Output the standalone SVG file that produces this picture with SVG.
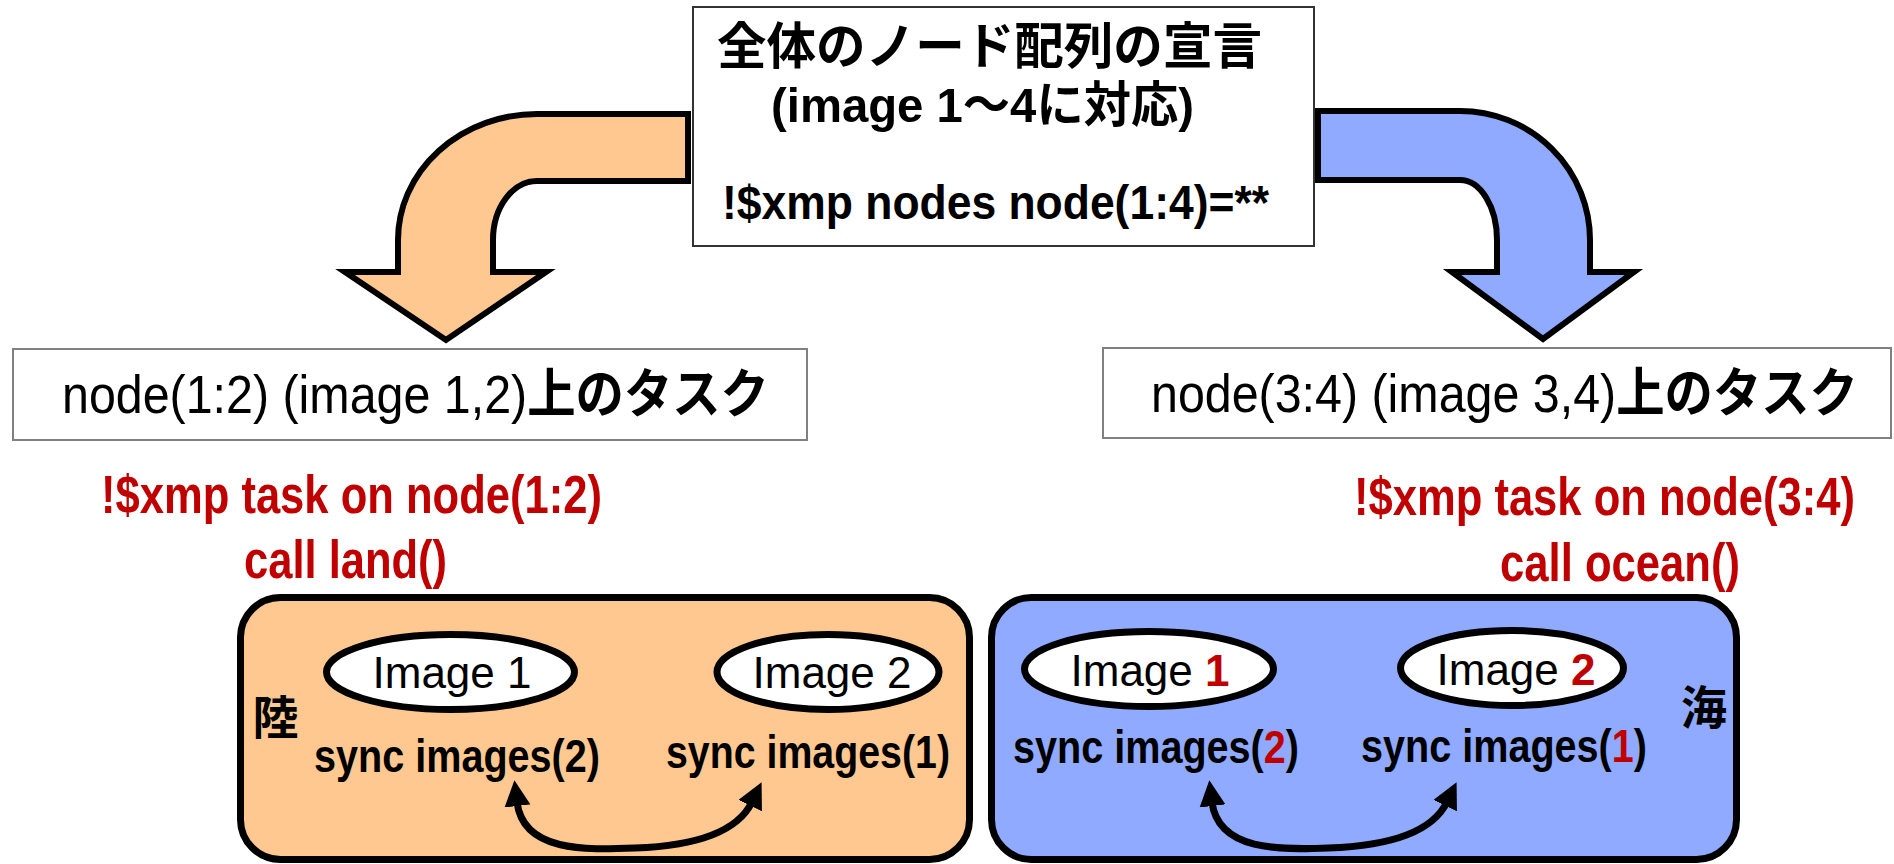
<svg xmlns="http://www.w3.org/2000/svg" width="1894" height="864" viewBox="0 0 1894 864">
<style>
text{font-family:'Liberation Sans','Noto Sans CJK JP',sans-serif;}
.b{font-weight:bold;}
.jp{font-family:'Noto Sans CJK JP','Liberation Sans',sans-serif;font-weight:bold;}
.red{fill:#C00000;}
.bent{stroke:#000;stroke-width:6;stroke-linejoin:miter;}
.box{fill:#fff;stroke:#808080;stroke-width:2;}
.panel{stroke:#000;stroke-width:7;}
.ell{fill:#fff;stroke:#000;stroke-width:7;}
.dbl{fill:none;stroke:#000;stroke-width:7;marker-start:url(#ah);marker-end:url(#ah);}
</style>
<defs>
<marker id="ah" markerUnits="userSpaceOnUse" markerWidth="26" markerHeight="26" viewBox="0 0 26 26" refX="4" refY="13" orient="auto-start-reverse">
<path d="M0,0 L26,13 L0,26 Z" fill="#000"/>
</marker>
</defs>
<rect width="1894" height="864" fill="#fff"/>

<g id="decl">
<rect x="693" y="7" width="621" height="239" fill="#fff" stroke="#333" stroke-width="2"/>
<text class="jp" x="717" y="64" font-size="50" textLength="545" lengthAdjust="spacingAndGlyphs">全体のノード配列の宣言</text>
<text class="b" x="771" y="122" font-size="49" textLength="423" lengthAdjust="spacingAndGlyphs">(image 1～4に対応)</text>
<text class="b" x="722" y="219" font-size="49" textLength="547" lengthAdjust="spacingAndGlyphs">!$xmp nodes node(1:4)=**</text>
</g>

<g id="node12">
<rect class="box" x="13" y="349" width="794" height="91"/>
<text x="62" y="413" font-size="53" textLength="707" lengthAdjust="spacingAndGlyphs">node(1:2) (image 1,2)<tspan class="jp">上のタスク</tspan></text>
</g>

<g id="node34">
<rect class="box" x="1103" y="348" width="788" height="90"/>
<text x="1151" y="412" font-size="53" textLength="707" lengthAdjust="spacingAndGlyphs">node(3:4) (image 3,4)<tspan class="jp">上のタスク</tspan></text>
</g>

<g id="task-land-label">
<text class="b red" x="101" y="513" font-size="54" textLength="501" lengthAdjust="spacingAndGlyphs">!$xmp task on node(1:2)</text>
<text class="b red" x="244" y="578" font-size="54" textLength="203" lengthAdjust="spacingAndGlyphs">call land()</text>
</g>

<g id="task-ocean-label">
<text class="b red" x="1354" y="515" font-size="54" textLength="501" lengthAdjust="spacingAndGlyphs">!$xmp task on node(3:4)</text>
<text class="b red" x="1500" y="581" font-size="54" textLength="240" lengthAdjust="spacingAndGlyphs">call ocean()</text>
</g>

<g id="land">
<rect class="panel" x="240.5" y="597.5" width="729" height="262" rx="40" ry="40" fill="#FFC891"/>
<text class="jp" x="275.5" y="734" font-size="46" text-anchor="middle">陸</text>
<text class="b" x="314" y="772" font-size="47" textLength="286" lengthAdjust="spacingAndGlyphs">sync images(2)</text>
<text class="b" x="666" y="768" font-size="47" textLength="284" lengthAdjust="spacingAndGlyphs">sync images(1)</text>
</g>
<g id="land-image1">
<ellipse class="ell" cx="450.5" cy="672" rx="124" ry="37.5"/>
<text x="452" y="688" font-size="44" text-anchor="middle">Image 1</text>
</g>
<g id="land-image2">
<ellipse class="ell" cx="828" cy="672" rx="111" ry="37.5"/>
<text x="832" y="688" font-size="44" text-anchor="middle">Image 2</text>
</g>

<g id="ocean">
<rect class="panel" x="991.5" y="597.5" width="745" height="262" rx="40" ry="40" fill="#8FAAFF"/>
<text class="jp" x="1704" y="724" font-size="46" text-anchor="middle">海</text>
<text class="b" x="1013" y="763" font-size="47" textLength="286" lengthAdjust="spacingAndGlyphs">sync images(<tspan class="red">2</tspan>)</text>
<text class="b" x="1361" y="762" font-size="47" textLength="286" lengthAdjust="spacingAndGlyphs">sync images(<tspan class="red">1</tspan>)</text>
</g>
<g id="ocean-image1">
<ellipse class="ell" cx="1149" cy="669" rx="124.5" ry="37.5"/>
<text x="1150" y="686" font-size="44" text-anchor="middle">Image <tspan class="b red">1</tspan></text>
</g>
<g id="ocean-image2">
<ellipse class="ell" cx="1512" cy="668" rx="111.5" ry="37.5"/>
<text x="1516" y="685" font-size="44" text-anchor="middle">Image <tspan class="b red">2</tspan></text>
</g>

<g id="connectors">
<path class="bent" fill="#FFC891" d="M688,114 L537,114 A139,126 0 0 0 398,240 L398,272 L345,272 L446,340 L546,272 L493,272 L493,240 A44,59 0 0 1 537,181 L688,181 Z"/>
<path class="bent" fill="#8FAAFF" d="M1318,111 L1460,111 A130,129 0 0 1 1590,240 L1590,272 L1634,272 L1543,339 L1452,272 L1497,272 L1497,240 A37,60 0 0 0 1460,180 L1318,180 Z"/>
<path class="dbl" d="M517,802 C523,852 585,850 635,848 C693,846 737,833 752,802"/>
<path class="dbl" d="M1212,802 C1218,851 1280,850 1328,848 C1388,846 1432,833 1447,802"/>
</g>
</svg>
